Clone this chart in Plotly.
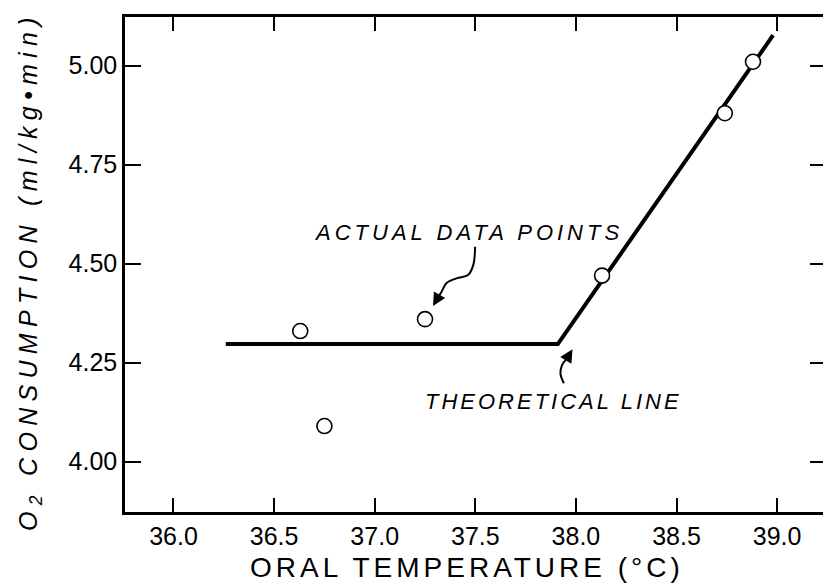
import plotly.graph_objects as go

# Measured data points (oral temperature °C, O2 consumption ml/kg·min)
temp_points = [36.63, 36.75, 37.25, 38.13, 38.74, 38.88]
o2_points = [4.33, 4.09, 4.36, 4.47, 4.88, 5.01]

# Theoretical line (vertices)
theory_temp = [36.26, 37.91, 38.98]
theory_o2 = [4.297, 4.297, 5.077]

x_ticks = [36.0, 36.5, 37.0, 37.5, 38.0, 38.5, 39.0]
x_tick_text = ["36.0", "36.5", "37.0", "37.5", "38.0", "38.5", "39.0"]
y_ticks = [4.00, 4.25, 4.50, 4.75, 5.00]
y_tick_text = ["4.00", "4.25", "4.50", "4.75", "5.00"]

X_RANGE = [35.759, 39.228]
Y_RANGE = [3.873, 5.123]

FONT = "Liberation Sans"

fig = go.Figure()

fig.add_trace(go.Scatter(
    x=theory_temp, y=theory_o2, mode="lines",
    line=dict(color="black", width=4), hoverinfo="skip", showlegend=False))

fig.add_trace(go.Scatter(
    x=temp_points, y=o2_points, mode="markers",
    marker=dict(size=15, color="white", line=dict(color="black", width=1.6)),
    showlegend=False))

# invisible trace on right-hand axis (for inner ticks on the right, no spine)
fig.add_trace(go.Scatter(x=[X_RANGE[0]], y=[Y_RANGE[0]], yaxis="y2", mode="markers",
                         marker=dict(opacity=0), hoverinfo="skip", showlegend=False))

# curly arrow paths (annotation decorations)
arrow1_x = [37.499, 37.490, 37.465, 37.407, 37.357, 37.333, 37.308]
arrow1_y = [4.543, 4.497, 4.472, 4.463, 4.451, 4.430, 4.409]
arrow2_x = [37.940, 37.923, 37.931, 37.956]
arrow2_y = [4.198, 4.223, 4.244, 4.261]
for ax_, ay_ in ((arrow1_x, arrow1_y), (arrow2_x, arrow2_y)):
    fig.add_trace(go.Scatter(x=ax_, y=ay_, mode="lines", line=dict(color="black", width=2, shape="spline"),
                             hoverinfo="skip", showlegend=False))

annotations = [
    dict(x=37.290, y=4.393, ax=arrow1_x[-1], ay=arrow1_y[-1], axref="x", ayref="y",
         xref="x", yref="y", text="", showarrow=True, arrowhead=2, arrowsize=1.3,
         arrowwidth=2, arrowcolor="black"),
    dict(x=37.983, y=4.284, ax=arrow2_x[-1], ay=arrow2_y[-1], axref="x", ayref="y",
         xref="x", yref="y", text="", showarrow=True, arrowhead=2, arrowsize=1.3,
         arrowwidth=2, arrowcolor="black"),
    dict(x=37.466, y=4.578, xref="x", yref="y", showarrow=False,
         xanchor="center", yanchor="middle",
         text='<i><span style="letter-spacing:4px">ACTUAL DATA POINTS</span></i>',
         font=dict(family=FONT, size=22, color="black")),
    dict(x=37.888, y=4.152, xref="x", yref="y", showarrow=False,
         xanchor="center", yanchor="middle",
         text='<i><span style="letter-spacing:3px">THEORETICAL LINE</span></i>',
         font=dict(family=FONT, size=22, color="black")),
    dict(x=0.49, y=-0.112, xref="paper", yref="paper", showarrow=False,
         xanchor="center", yanchor="middle",
         text='<span style="letter-spacing:4px">ORAL TEMPERATURE (°C)</span>',
         font=dict(family=FONT, size=28, color="black")),
    dict(x=-0.136, y=0.487, xref="paper", yref="paper", showarrow=False, textangle=-90,
         xanchor="center", yanchor="middle",
         text='<i><span style="letter-spacing:6.3px">O<sub>2</sub> CONSUMPTION (ml/kg•min)</span></i>',
         font=dict(family=FONT, size=25, color="black")),
]

fig.update_layout(
    width=823, height=584,
    margin=dict(l=125, r=0, t=17, b=72),
    paper_bgcolor="white", plot_bgcolor="white",
    font=dict(family=FONT, size=22, color="black"),
    annotations=annotations,
    xaxis=dict(range=X_RANGE, tickvals=x_ticks, ticktext=x_tick_text,
               showgrid=False, zeroline=False, showline=True, linecolor="black", linewidth=2.5,
               mirror="ticks", ticks="inside", ticklen=14, tickwidth=2, tickcolor="black",
               tickfont=dict(family=FONT, size=25), ticklabelstandoff=0),
    yaxis=dict(range=Y_RANGE, tickvals=y_ticks, ticktext=y_tick_text,
               showgrid=False, zeroline=False, showline=True, linecolor="black", linewidth=2.5,
               ticks="inside", ticklen=16, tickwidth=2, tickcolor="black",
               tickfont=dict(family=FONT, size=25)),
    yaxis2=dict(range=Y_RANGE, tickvals=y_ticks, overlaying="y", side="right",
                showticklabels=False, showgrid=False, zeroline=False, showline=False,
                ticks="inside", ticklen=13, tickwidth=2, tickcolor="black"),
)

fig.write_html(
    "out.html",
    config={"displayModeBar": False},
    post_script="document.body.style.margin='0';document.body.style.overflow='hidden';",
)
